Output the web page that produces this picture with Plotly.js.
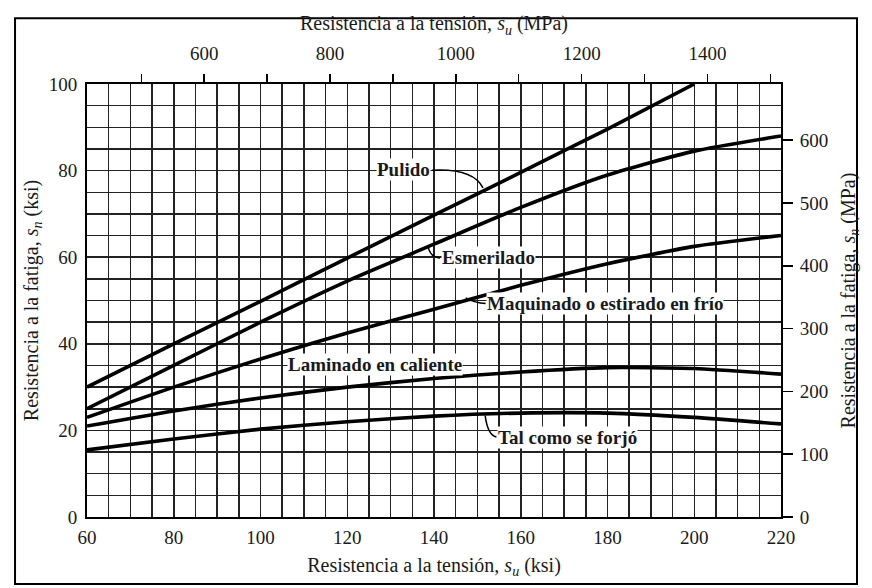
<!DOCTYPE html>
<html>
<head>
<meta charset="utf-8">
<script src="https://cdn.plot.ly/plotly-3.0.1.min.js"></script>
<style>html,body{margin:0;padding:0;background:#fff;}#chart{width:872px;height:588px;}</style>
</head>
<body>
<div id="chart"></div>
<script>
// Data (ksi)
const xKsi = [60, 80, 100, 120, 140, 160, 180, 200, 220];
const pulidoX = [60, 80, 100, 120, 140, 160, 180, 200];
const pulidoY = [30, 40, 49.8, 59.8, 69.7, 79.6, 89.6, 100];
const esmeriladoY = [25, 35, 45, 54.5, 63, 71.5, 79, 84.5, 88];
const maquinadoY = [23, 30, 36.5, 42.5, 48, 53.5, 58.5, 62.5, 65];
const laminadoY = [21, 24.5, 27.5, 30, 32, 33.5, 34.5, 34.3, 33];
const forjadoY = [15.5, 18, 20.3, 22, 23.3, 24, 24, 23, 21.5];

const KSI_TO_MPA = 6.895;
const topTickVals = [600, 800, 1000, 1200, 1400];
const rightTickVals = [0, 100, 200, 300, 400, 500, 600];
const bottomTicks = [60, 80, 100, 120, 140, 160, 180, 200, 220];
const leftTicks = [0, 20, 40, 60, 80, 100];

const FONT = '"Liberation Serif", "Times New Roman", serif';
const TXT = '#1a1a1a';
const TICK = 19, TITLE = 20, LABEL = 19;
const lineStyle = {color: '#000', width: 3.6, shape: 'spline', smoothing: 0.6};

const traces = [
  {x: pulidoX, y: pulidoY, mode: 'lines', line: lineStyle, hoverinfo: 'skip'},
  {x: xKsi, y: esmeriladoY, mode: 'lines', line: lineStyle, hoverinfo: 'skip'},
  {x: xKsi, y: maquinadoY, mode: 'lines', line: lineStyle, hoverinfo: 'skip'},
  {x: xKsi, y: laminadoY, mode: 'lines', line: lineStyle, hoverinfo: 'skip'},
  {x: xKsi, y: forjadoY, mode: 'lines', line: lineStyle, hoverinfo: 'skip'},
  {x: [60 * KSI_TO_MPA], y: [0], xaxis: 'x2', yaxis: 'y2', mode: 'markers', marker: {opacity: 0}, hoverinfo: 'skip'}
];

const gridC = '#222';
function lbl(x, y, text, anchor) {
  return {x: x, y: y, xref: 'x', yref: 'y', text: '<b>' + text + '</b>', showarrow: false, xanchor: anchor, yanchor: 'middle',
          bgcolor: '#fff', font: {family: FONT, size: LABEL, color: TXT}, borderpad: 0};
}
const layout = {
  width: 872, height: 588,
  margin: {l: 87, r: 91, t: 84, b: 71},
  paper_bgcolor: '#fff', plot_bgcolor: '#fff',
  showlegend: false,
  font: {family: FONT, color: TXT, size: TICK},
  xaxis: {
    range: [60, 220], tickvals: bottomTicks, ticks: '', showgrid: true, gridcolor: gridC, gridwidth: 1.5,
    minor: {dtick: 5, tick0: 60, showgrid: true, gridcolor: gridC, gridwidth: 1.5},
    showline: true, linecolor: '#000', linewidth: 2, zeroline: false, mirror: false,
    tickfont: {family: FONT, size: TICK, color: TXT}, ticklabelstandoff: 2,
    title: {text: 'Resistencia a la tensión, <i>s<sub>u</sub></i> (ksi)', font: {family: FONT, size: TITLE, color: TXT}, standoff: 11}
  },
  yaxis: {
    range: [0, 100], tickvals: leftTicks, ticks: '', showgrid: true, gridcolor: gridC, gridwidth: 1.5,
    minor: {dtick: 5, tick0: 0, showgrid: true, gridcolor: gridC, gridwidth: 1.5},
    showline: true, linecolor: '#000', linewidth: 2, zeroline: false,
    tickfont: {family: FONT, size: TICK, color: TXT}, ticklabelstandoff: 4,
    title: {text: 'Resistencia a la fatiga, <i>s<sub>n</sub></i> (ksi)', font: {family: FONT, size: TITLE, color: TXT}, standoff: 5}
  },
  xaxis2: {
    overlaying: 'x', side: 'top', anchor: 'y',
    range: [60 * KSI_TO_MPA, 220 * KSI_TO_MPA], tickvals: topTickVals,
    ticks: 'outside', ticklen: 8, tickwidth: 1.5, tickcolor: '#000', showgrid: false, zeroline: false,
    minor: {dtick: 100, tick0: 500, ticks: 'outside', ticklen: 8, tickwidth: 1.5, tickcolor: '#000', showgrid: false},
    showline: true, linecolor: '#000', linewidth: 2,
    tickfont: {family: FONT, size: TICK, color: TXT}, ticklabelstandoff: 6,
    title: {text: 'Resistencia a la tensión, <i>s<sub>u</sub></i> (MPa)', font: {family: FONT, size: TITLE, color: TXT}, standoff: 7}
  },
  yaxis2: {
    overlaying: 'y', side: 'right', anchor: 'x',
    range: [0, 100 * KSI_TO_MPA], tickvals: rightTickVals,
    ticks: 'outside', ticklen: 10, tickwidth: 1.5, tickcolor: '#000', showgrid: false, zeroline: false,
    showline: true, linecolor: '#000', linewidth: 2,
    tickfont: {family: FONT, size: TICK, color: TXT}, ticklabelstandoff: 3,
    title: {text: 'Resistencia a la fatiga, <i>s<sub>n</sub></i> (MPa)', font: {family: FONT, size: TITLE, color: TXT}, standoff: 14}
  },
  annotations: [
    lbl(139.2, 80.2, 'Pulido', 'right'),
    lbl(141.6, 60, 'Esmerilado', 'left'),
    lbl(152.1, 49.4, 'Maquinado o estirado en frío', 'left'),
    lbl(126.5, 35.3, 'Laminado en caliente', 'center'),
    lbl(154.6, 18.4, 'Tal como se forjó', 'left')
  ],
  shapes: [
    {type: 'path', xref: 'x', yref: 'y', path: 'M 139.6,80.1 Q 149,80.6 151.3,76', line: {color: '#000', width: 1.5}},
    {type: 'path', xref: 'x', yref: 'y', path: 'M 141.4,59.8 Q 139.2,60 138.7,62.2', line: {color: '#000', width: 1.5}},
    {type: 'path', xref: 'x', yref: 'y', path: 'M 151.9,49.3 Q 149.5,49.4 147.3,50.6', line: {color: '#000', width: 1.5}},
    {type: 'path', xref: 'x', yref: 'y', path: 'M 154.4,18.5 Q 152.4,18.8 151.8,23.4', line: {color: '#000', width: 1.5}},
    {type: 'rect', xref: 'paper', yref: 'paper', x0: -0.1037, x1: 1.1095, y0: -0.1547, y1: 1.152, line: {color: '#000', width: 2}, layer: 'below'}
  ]
};

Plotly.newPlot('chart', traces, layout, {staticPlot: true, displayModeBar: false});
</script>
</body>
</html>
